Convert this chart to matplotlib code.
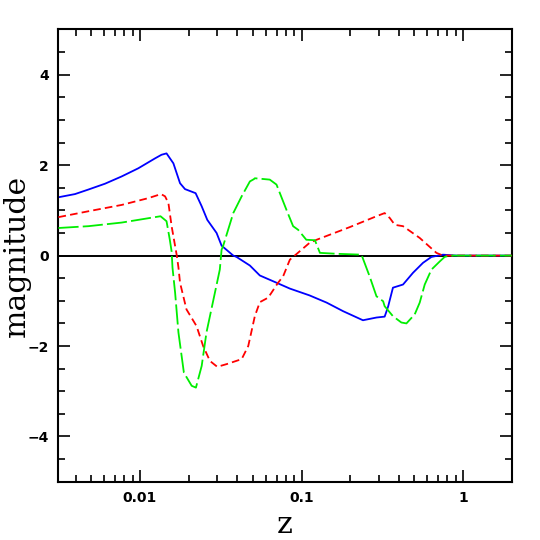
import matplotlib
matplotlib.use('Agg')
import matplotlib.pyplot as plt
from matplotlib.ticker import FixedLocator, MultipleLocator, NullFormatter, FuncFormatter, LogLocator

# values (z, magnitude)
blue_z = [0.00313, 0.00396, 0.00479, 0.00608, 0.00770, 0.00976, 0.0124, 0.0136, 0.0146,
          0.0161, 0.0177, 0.0190, 0.0221, 0.0241, 0.0261, 0.0298, 0.0320, 0.0378, 0.0396,
          0.0479, 0.0552, 0.0700, 0.0847, 0.112, 0.143, 0.181, 0.230, 0.240, 0.291, 0.327,
          0.336, 0.344, 0.368, 0.425, 0.490, 0.565, 0.637, 0.751, 0.909, 2.0]
blue_m = [1.29, 1.36, 1.46, 1.59, 1.75, 1.93, 2.15, 2.23, 2.26,
          2.04, 1.60, 1.47, 1.38, 1.09, 0.79, 0.50, 0.22, 0.0, -0.03,
          -0.22, -0.44, -0.60, -0.73, -0.88, -1.04, -1.23, -1.40, -1.43, -1.37, -1.35,
          -1.23, -1.12, -0.71, -0.64, -0.38, -0.16, -0.03, 0.02, 0.0, 0.0]

red_z = [0.00313, 0.00479, 0.00770, 0.01125, 0.0135, 0.0143, 0.0150, 0.0157, 0.0169,
         0.0173, 0.0177, 0.0194, 0.0224, 0.0246, 0.0271, 0.0301, 0.0344, 0.0426, 0.0468,
         0.0514, 0.0552, 0.0622, 0.0716, 0.0769, 0.0847, 0.0887, 0.112, 0.124, 0.199,
         0.291, 0.327, 0.352, 0.378, 0.425, 0.539, 0.684, 0.751, 2.0]
red_m = [0.85, 0.98, 1.12, 1.27, 1.36, 1.31, 1.16, 0.65, 0.0,
         -0.26, -0.60, -1.19, -1.56, -2.0, -2.33, -2.46, -2.40, -2.29, -2.0,
         -1.34, -1.03, -0.93, -0.60, -0.46, -0.09, -0.03, 0.28, 0.35, 0.63,
         0.87, 0.94, 0.83, 0.68, 0.65, 0.39, 0.06, 0.0, 0.0]

green_z = [0.00313, 0.00479, 0.00770, 0.0134, 0.0146, 0.0153, 0.0157, 0.0159, 0.0165,
           0.0173, 0.0187, 0.0209, 0.0222, 0.0241, 0.0258, 0.0291, 0.0312, 0.0320, 0.0327,
           0.0378, 0.0426, 0.0479, 0.0507, 0.0514, 0.0636, 0.0700, 0.0807, 0.0887, 0.0953,
           0.107, 0.121, 0.130, 0.164, 0.235, 0.264, 0.291, 0.320, 0.327, 0.368, 0.415,
           0.446, 0.502, 0.539, 0.579, 0.637, 0.717, 0.769, 0.826, 2.0]
green_m = [0.61, 0.65, 0.73, 0.87, 0.76, 0.35, 0.09, -0.27, -0.82,
           -1.70, -2.59, -2.88, -2.92, -2.44, -1.70, -0.82, -0.31, 0.13, 0.21,
           0.94, 1.31, 1.64, 1.69, 1.71, 1.68, 1.57, 1.01, 0.65, 0.57,
           0.35, 0.34, 0.06, 0.04, 0.02, -0.46, -0.90, -1.01, -1.12, -1.34, -1.48,
           -1.50, -1.30, -1.04, -0.64, -0.31, -0.13, -0.03, 0.0, 0.0]

x_ticks = [0.01, 0.1, 1]
x_labels = ['0.01', '0.1', '1']

plt.rcParams['lines.scale_dashes'] = False

fig = plt.figure(figsize=(5.4, 5.4), dpi=100)
ax = fig.add_axes([0.1083, 0.108, 0.8393, 0.8374])

ax.axhline(0, color='black', lw=1.4, zorder=1)
ax.plot(blue_z, blue_m, color='#0000ff', lw=1.3, zorder=2)
line_r, = ax.plot(red_z, red_m, color='#ff0000', lw=1.3, zorder=3)
line_r.set_dashes([5.5, 3.0])
line_g, = ax.plot(green_z, green_m, color='#00ee00', lw=1.3, zorder=4)
line_g.set_dashes([14.5, 3.0])

ax.set_xscale('log')
ax.set_xlim(0.00313, 2.0)
ax.set_ylim(-5, 5)

ax.xaxis.set_major_locator(FixedLocator(x_ticks))
ax.xaxis.set_major_formatter(FuncFormatter(lambda v, p: x_labels[x_ticks.index(v)] if v in x_ticks else ''))
ax.xaxis.set_minor_locator(LogLocator(base=10, subs=range(2, 10), numticks=20))
ax.xaxis.set_minor_formatter(NullFormatter())
ax.yaxis.set_major_locator(MultipleLocator(2))
ax.yaxis.set_minor_locator(MultipleLocator(0.5))

for s in ax.spines.values():
    s.set_linewidth(1.5)

ax.tick_params(which='both', direction='in', top=True, right=True, width=1.2)
ax.tick_params(which='major', length=8.5, pad=7)
ax.tick_params(which='minor', length=5)
for lab in ax.get_xticklabels() + ax.get_yticklabels():
    lab.set_fontweight('bold')
    lab.set_fontsize(10)

ax.set_xlabel('z', family='DejaVu Serif', fontsize=21.5)
ax.set_ylabel('magnitude', family='DejaVu Serif', fontsize=21.5)
ax.yaxis.set_label_coords(-0.061, 0.5)
ax.xaxis.set_label_coords(0.5, -0.065)

fig.savefig('out.png', dpi=100)
